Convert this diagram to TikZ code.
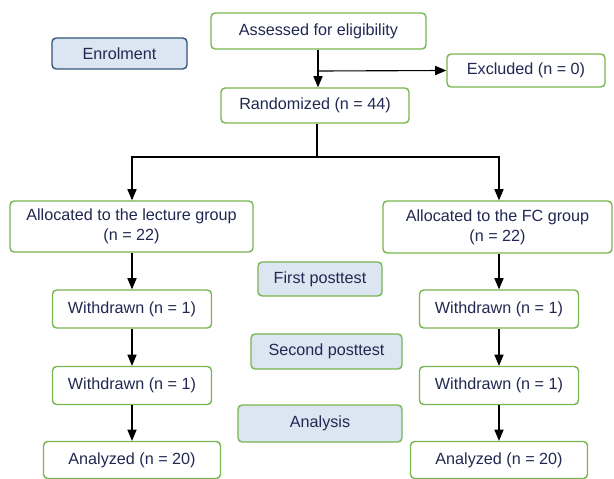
\documentclass[tikz,border=0pt]{standalone}
\usepackage{fontspec}
\setmainfont{Liberation Sans}
\usetikzlibrary{positioning,arrows}
\definecolor{boxgreen}{RGB}{119,182,80}
\definecolor{phaseblue}{RGB}{220,230,242}
\definecolor{phaseline}{RGB}{50,85,125}
\definecolor{textnavy}{RGB}{35,40,82}

\begin{document}
\begin{tikzpicture}[x=0.025cm,y=-0.025cm,
    font=\fontsize{11.5}{14}\selectfont,
    box/.style={draw=boxgreen,line width=1pt,rounded corners=3pt,fill=white,
      text=textnavy,align=center,inner sep=0pt},
    phase/.style={box,fill=phaseblue},
    arr/.style={-triangle 45,line width=0.8pt}]
        \useasboundingbox (0,0) rectangle (614,479);

        % enrolment
        \node[phase,draw=phaseline,minimum width=3.375cm,minimum height=0.775cm] (enrol) at (119.5,53.5) {Enrolment};
        \node[box,minimum width=5.375cm,minimum height=0.9cm] (assess) at (318.5,31) {Assessed for eligibility};
        \node[box,minimum width=3.95cm,minimum height=0.825cm] (excl) at (526,70.5) {Excluded (n = 0)};
        \node[box,minimum width=4.7cm,minimum height=0.875cm] (rand) at (315,105.5) {Randomized (n = 44)};

        % allocation
        \node[box,minimum width=6.075cm,minimum height=1.275cm] (lect) at (131.5,226.5) {Allocated to the lecture group\\(n = 22)};
        \node[box,minimum width=5.725cm,minimum height=1.3cm] (fc) at (497.5,227) {Allocated to the FC group\\(n = 22)};

        % follow-up
        \node[phase,minimum width=3.1cm,minimum height=0.85cm] (first) at (320,279) {First posttest};
        \node[phase,minimum width=3.775cm,minimum height=0.875cm] (second) at (326.5,351.5) {Second posttest};
        \node[phase,minimum width=4.1cm,minimum height=0.925cm] (analysis) at (320,423.5) {Analysis};

        \foreach \side/\x in {l/132,r/499} {
          \node[box,minimum width=3.975cm,minimum height=0.95cm] (w\side1) at (\x,309) {Withdrawn (n = 1)};
          \node[box,minimum width=3.975cm,minimum height=0.95cm] (w\side2) at (\x,385.5) {Withdrawn (n = 1)};
          \node[box,minimum width=4.425cm,minimum height=0.925cm] (an\side) at (\x,460) {Analyzed (n = 20)};
        }

        \coordinate (split) at (318,71);
        \coordinate (fork) at (317,157);

        \draw[arr] (assess.south -| split) -- (rand.north -| split);
        \draw[arr] (split) -- (excl.west);
        \draw[line width=0.8pt] (rand.south -| fork) -- (fork);
        \draw[arr] (fork) -| (lect.north -| wl1);
        \draw[arr] (fork) -| (fc.north -| wr1);

        \foreach \side/\grp in {l/lect,r/fc} {
          \draw[arr] (\grp.south -| w\side1) -- (w\side1);
          \draw[arr] (w\side1) -- (w\side2);
          \draw[arr] (w\side2) -- (an\side);
        }
      \end{tikzpicture}
\end{document}
